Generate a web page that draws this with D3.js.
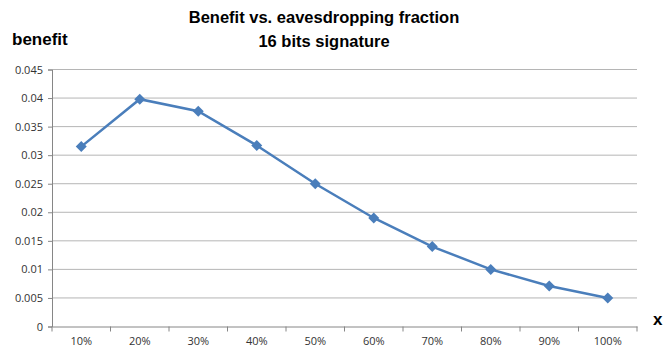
<!DOCTYPE html>
<html>
<head>
<meta charset="utf-8">
<script src="https://cdn.jsdelivr.net/npm/d3@7"></script>
<style>
  body { margin: 0; background: #fff; }
  text { font-family: "Open Sans", "Liberation Sans", sans-serif; }
</style>
</head>
<body>
<script>
const fractions = ["10%", "20%", "30%", "40%", "50%", "60%", "70%", "80%", "90%", "100%"];
const benefit = [0.0315, 0.0398, 0.0377, 0.0317, 0.025, 0.019, 0.014, 0.010, 0.0071, 0.005];
const yTicks = [0, 0.005, 0.01, 0.015, 0.02, 0.025, 0.03, 0.035, 0.04, 0.045];

let width = 663;
let height = 349;
let marginTop = 69.5;
let marginRight = 26;
let marginBottom = 22.5;
let marginLeft = 52;

let data = fractions.map((f, i) => ({ f: f, v: benefit[i] }));

let x = d3.scaleBand()
    .domain(fractions)
    .range([marginLeft, width - marginRight]);

let y = d3.scaleLinear()
    .domain([0, 0.045])
    .range([height - marginBottom, marginTop]);

let svg = d3.select("body").append("svg")
    .attr("width", width)
    .attr("height", height)
    .attr("viewBox", [0, 0, width, height]);

// horizontal gridlines
svg.append("g")
    .selectAll("line")
    .data(yTicks.slice(1))
    .join("line")
    .attr("x1", marginLeft)
    .attr("x2", width - marginRight)
    .attr("y1", d => y(d))
    .attr("y2", d => y(d))
    .attr("stroke", "#b5b5b5")
    .attr("stroke-width", 1);

// y axis
svg.append("g")
    .attr("transform", `translate(${marginLeft},0)`)
    .call(d3.axisLeft(y).tickValues(yTicks).tickSize(4).tickFormat(d => d3.format("")(+d.toFixed(3))))
    .call(g => g.select(".domain").attr("stroke", "#868686"))
    .call(g => g.selectAll(".tick line").attr("stroke", "#868686"))
    .call(g => g.selectAll("text").attr("fill", "#333").style("font-size", "11px").attr("dx", "-2"));

// x axis, ticks on band boundaries
let xAxis = svg.append("g")
    .attr("transform", `translate(0,${height - marginBottom})`)
    .call(d3.axisBottom(x).tickSize(0).tickPadding(11))
    .call(g => g.select(".domain").attr("stroke", "#868686"))
    .call(g => g.selectAll("text").attr("fill", "#333").style("font-size", "11px"));

xAxis.selectAll(".bound")
    .data(fractions.map(f => x(f)).concat([x.range()[1]]))
    .join("line")
    .attr("class", "bound")
    .attr("x1", d => d)
    .attr("x2", d => d)
    .attr("y1", 0)
    .attr("y2", 5)
    .attr("stroke", "#868686");

// the line
let line = d3.line()
    .x(d => x(d.f) + x.bandwidth() / 2)
    .y(d => y(d.v));

svg.append("path")
    .datum(data)
    .attr("fill", "none")
    .attr("stroke", "#4a7ebb")
    .attr("stroke-width", 2.5)
    .attr("d", line);

// diamond markers
svg.append("g")
    .attr("fill", "#4a7ebb")
    .selectAll("path")
    .data(data)
    .join("path")
    .attr("transform", d => `translate(${x(d.f) + x.bandwidth() / 2},${y(d.v)})`)
    .attr("d", "M0,-5.5L5.5,0L0,5.5L-5.5,0Z");

// titles
let bold = "'Liberation Sans Narrow', 'Liberation Sans', sans-serif";

svg.append("text")
    .attr("x", 324)
    .attr("y", 23)
    .attr("text-anchor", "middle")
    .style("font-size", "16.5px")
    .style("font-weight", "bold")
    .style("font-family", bold)
    .text("Benefit vs. eavesdropping fraction");

svg.append("text")
    .attr("x", 324)
    .attr("y", 47)
    .attr("text-anchor", "middle")
    .style("font-size", "16.5px")
    .style("font-weight", "bold")
    .style("font-family", bold)
    .text("16 bits signature");

svg.append("text")
    .attr("x", 12)
    .attr("y", 45)
    .style("font-size", "17px")
    .style("font-weight", "bold")
    .style("font-family", bold)
    .text("benefit");

svg.append("text")
    .attr("x", 653)
    .attr("y", 325)
    .style("font-size", "17px")
    .style("font-weight", "bold")
    .style("font-family", bold)
    .text("x");
</script>
</body>
</html>
